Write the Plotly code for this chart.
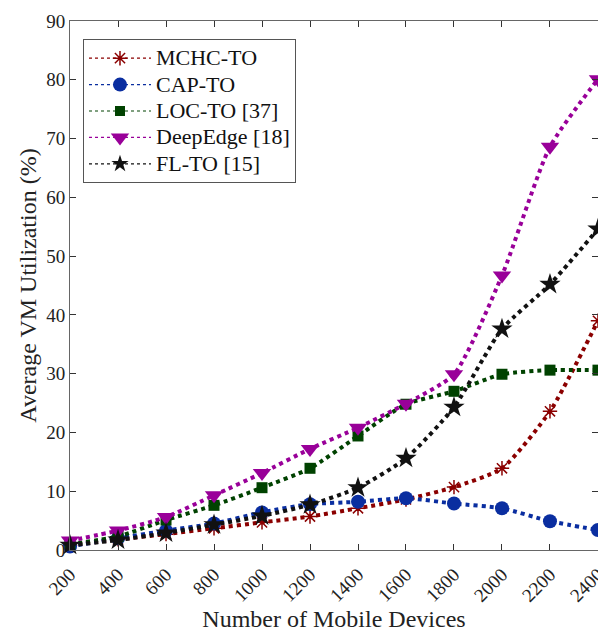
import plotly.graph_objects as go

devices = [200, 400, 600, 800, 1000, 1200, 1400, 1600, 1800, 2000, 2200, 2400]
mchc = [0.8, 1.8, 2.7, 3.7, 4.7, 5.7, 7.1, 8.6, 10.7, 13.9, 23.6, 39.0]
cap = [0.6, 2.0, 3.3, 4.5, 6.4, 7.8, 8.2, 8.8, 7.9, 7.1, 4.9, 3.4]
loc = [1.0, 2.3, 5.1, 7.6, 10.6, 13.9, 19.4, 24.8, 27.0, 29.9, 30.6, 30.6]
deep = [1.6, 3.3, 5.6, 9.3, 13.1, 17.2, 20.8, 24.9, 29.9, 46.7, 68.6, 80.1]
fl = [0.8, 1.7, 2.9, 4.3, 5.8, 7.7, 10.6, 15.6, 24.3, 37.6, 45.2, 54.6]
names = ["MCHC-TO", "CAP-TO", "LOC-TO [37]", "DeepEdge [18]", "FL-TO [15]"]
x_ticks = [200, 400, 600, 800, 1000, 1200, 1400, 1600, 1800, 2000, 2200, 2400]
y_ticks = [0, 10, 20, 30, 40, 50, 60, 70, 80, 90]

series = [
    (names[0], mchc, "#8b0000", "asterisk-open", 12, 12),
    (names[1], cap, "#0a2ea0", "circle", 14, 14),
    (names[2], loc, "#004200", "square", 11, 10),
    (names[3], deep, "#990099", "triangle-down", 16, 16),
    (names[4], fl, "#111111", "star", 16, 13),
]

fig = go.Figure()
# legend entries (thin dotted line sample, like the reference)
for name, vals, col, sym, sz, lsz in series:
    fig.add_trace(go.Scatter(
        x=[None], y=[None], mode="lines+markers",
        name='<span style="font-size:22px">' + name + '</span>',
        line=dict(color=col, width=1.2, dash="dot"),
        marker=dict(symbol=sym, size=lsz, color=col,
                    line=dict(color=col, width=1.5 if sym == "asterisk-open" else 0)),
    ))
# plotted curves
for name, vals, col, sym, sz, lsz in series:
    fig.add_trace(go.Scatter(
        x=devices, y=vals, name=name, mode="lines+markers", cliponaxis=False,
        showlegend=False,
        line=dict(color=col, width=4, dash="4px,4px", shape="spline", smoothing=0.6),
        marker=dict(symbol=sym, size=sz, color=col,
                    line=dict(color=col, width=1.5 if sym == "asterisk-open" else 0)),
    ))

font = "Liberation Serif, Times New Roman, serif"
axis_common = dict(
    showline=True, linecolor="#666666", linewidth=1, mirror="ticks",
    ticks="inside", ticklen=6, tickcolor="#333333", showgrid=False, zeroline=False,
    automargin=False, ticklabeloverflow="allow",
    tickfont=dict(family=font, size=19, color="#222222"),
)
fig.update_layout(
    width=606, height=630,
    margin=dict(l=62, r=16, t=13, b=88),
    paper_bgcolor="white", plot_bgcolor="white",
    showlegend=True,
    legend=dict(x=0.0246, y=0.966, xanchor="left", yanchor="top",
                bordercolor="#555555", borderwidth=1, bgcolor="white",
                font=dict(family=font, size=18, color="#111111"),
                itemwidth=62, tracegroupgap=0),
    xaxis=dict(range=[199.9, 2400.1], tickvals=x_ticks, tickangle=-45,
               ticklabelstandoff=5,
               title=dict(text="Number of Mobile Devices", font=dict(family=font, size=24, color="#222222"), standoff=0),
               **axis_common),
    yaxis=dict(range=[0, 90], tickvals=y_ticks,
               title=dict(text="Average VM Utilization (%)", font=dict(family=font, size=24, color="#222222"), standoff=2),
               **axis_common),
)
fig.write_html("out.html")
